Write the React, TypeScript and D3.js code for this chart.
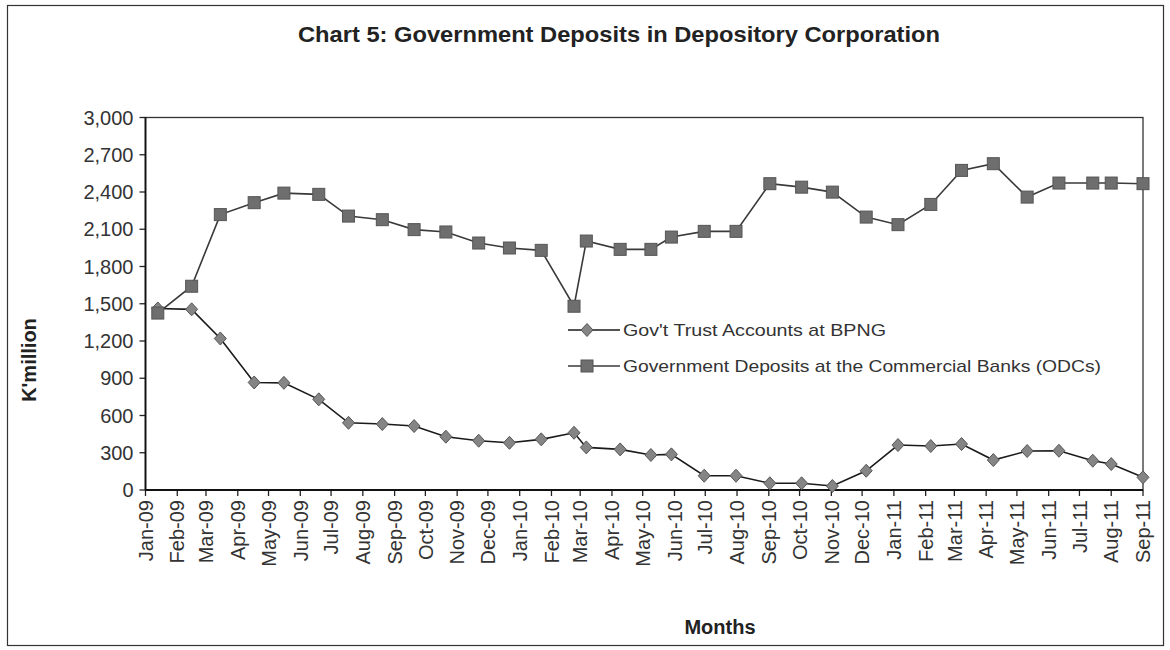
import React from "react";
import * as d3 from "d3";

const title = "Chart 5: Government Deposits in Depository Corporation";
const yAxisTitle = "K'million";
const xAxisTitle = "Months";
const seriesNames = [
  "Gov't Trust Accounts at BPNG",
  "Government Deposits at the Commercial Banks (ODCs)",
];

const dates = [
  "2009-01-13", "2009-02-15", "2009-03-15", "2009-04-17", "2009-05-16",
  "2009-06-19", "2009-07-18", "2009-08-20", "2009-09-20", "2009-10-21",
  "2009-11-22", "2009-12-22", "2010-01-22", "2010-02-23", "2010-03-07",
  "2010-04-09", "2010-05-09", "2010-05-29", "2010-06-30", "2010-07-31",
  "2010-09-02", "2010-10-03", "2010-11-02", "2010-12-05", "2011-01-05",
  "2011-02-06", "2011-03-08", "2011-04-08", "2011-05-11", "2011-06-11",
  "2011-07-14", "2011-08-01", "2011-09-01",
];

const bpng = [
  1462, 1455, 1220, 866, 863, 730, 541, 531, 515, 429,
  397, 380, 408, 461, 343, 327, 282, 287, 115, 115,
  54, 54, 32, 155, 362, 354, 370, 241, 314, 316,
  236, 209, 102,
];

const odc = [
  1425, 1641, 2218, 2314, 2391, 2381, 2206, 2177, 2097, 2078,
  1989, 1949, 1930, 1480, 2005, 1938, 1938, 2037, 2083, 2083,
  2467, 2439, 2399, 2198, 2137, 2300, 2574, 2628, 2359, 2472,
  2472, 2472, 2467,
];

const yTicks = [0, 300, 600, 900, 1200, 1500, 1800, 2100, 2400, 2700, 3000];
const xStart = "2009-01-01";
const xEnd = "2011-09-01";

const W = 1170;
const H = 650;
const M = { left: 145.5, right: 1143, top: 117.5, bottom: 490 };
const FONT = "'Liberation Sans', Arial, sans-serif";

export default function App() {
  const parse = d3.utcParse("%Y-%m-%d");
  const d0 = parse(xStart) as Date;
  const d1 = parse(xEnd) as Date;
  const x = d3.scaleUtc().domain([d0, d1]).range([M.left, M.right]);
  const y = d3.scaleLinear().domain([0, 3000]).range([M.bottom, M.top]);
  const months = d3.utcMonth.range(d0, d3.utcDay.offset(d1, 1));
  const fmt = d3.utcFormat("%b-%y");
  const yFmt = d3.format(",");

  const pts1 = dates.map((d, i) => [x(parse(d) as Date), y(bpng[i])] as [number, number]);
  const pts2 = dates.map((d, i) => [x(parse(d) as Date), y(odc[i])] as [number, number]);
  const line = d3.line<[number, number]>();

  const diamond = (cx: number, cy: number, r = 6.5) =>
    `M${cx},${cy - r}L${cx + r - 0.5},${cy}L${cx},${cy + r}L${cx - r + 0.5},${cy}Z`;
  const sq = 12;

  const legX = 568;
  const legRows = [330, 366];

  return (
    <svg
      width={W}
      height={H}
      style={{ position: "absolute", left: 0, top: 0, background: "#fff" }}
    >
      <rect x={0} y={0} width={W} height={H} fill="#fdfdfd" />
      <rect x={7.5} y={5.5} width={1156} height={640} fill="#fff" stroke="#333" strokeWidth={1.2} />
      <text
        x={619}
        y={42}
        textAnchor="middle"
        fontFamily="'Liberation Sans Narrow', 'Liberation Sans', Arial, sans-serif"
        fontWeight="bold"
        fontSize={22}
        fill="#222"
        textLength={642}
        lengthAdjust="spacingAndGlyphs"
      >
        {title}
      </text>

      {/* plot area frame */}
      <rect
        x={M.left}
        y={M.top}
        width={M.right - M.left}
        height={M.bottom - M.top}
        fill="#fff"
        stroke="#333"
        strokeWidth={1.3}
      />

      {/* y axis */}
      {yTicks.map((t) => (
        <g key={t}>
          <line x1={M.left - 6} x2={M.left} y1={y(t)} y2={y(t)} stroke="#222" strokeWidth={1.3} />
          <text
            x={M.left - 12}
            y={y(t)}
            dy="0.36em"
            textAnchor="end"
            fontFamily={FONT}
            fontSize={20}
            fill="#333"
          >
            {yFmt(t)}
          </text>
        </g>
      ))}
      <line x1={M.left} x2={M.left} y1={M.top} y2={M.bottom} stroke="#111" strokeWidth={1.8} />

      {/* x axis */}
      {months.map((m) => {
        const xm = x(m);
        return (
          <g key={+m}>
            <line x1={xm} x2={xm} y1={M.bottom} y2={M.bottom + 6} stroke="#222" strokeWidth={1.3} />
            <text
              transform={`translate(${xm},${M.bottom + 10}) rotate(-90)`}
              dy="0.36em"
              textAnchor="end"
              fontFamily={FONT}
              fontSize={20}
              fill="#333"
            >
              {fmt(m)}
            </text>
          </g>
        );
      })}
      <line x1={M.left} x2={M.right} y1={M.bottom} y2={M.bottom} stroke="#111" strokeWidth={1.8} />

      {/* series 1: BPNG (diamonds) */}
      <path d={line(pts1) || ""} fill="none" stroke="#1a1a1a" strokeWidth={1.6} />
      {pts1.map(([px, py], i) => (
        <path key={"d" + i} d={diamond(px, py)} fill="#858585" stroke="#555" strokeWidth={1} />
      ))}

      {/* series 2: ODCs (squares) */}
      <path d={line(pts2) || ""} fill="none" stroke="#3a3a3a" strokeWidth={1.6} />
      {pts2.map(([px, py], i) => (
        <rect
          key={"s" + i}
          x={px - sq / 2}
          y={py - sq / 2}
          width={sq}
          height={sq}
          fill="#6e6e6e"
          stroke="#555"
          strokeWidth={1}
        />
      ))}

      {/* legend */}
      <line x1={legX} x2={legX + 52} y1={legRows[0]} y2={legRows[0]} stroke="#1a1a1a" strokeWidth={1.6} />
      <path d={diamond(legX + 19, legRows[0])} fill="#858585" stroke="#555" strokeWidth={1} />
      <text
        x={legX + 55}
        y={legRows[0]}
        dy="0.36em"
        fontFamily={FONT}
        fontSize={17}
        fill="#333"
        textLength={263}
        lengthAdjust="spacingAndGlyphs"
      >
        {seriesNames[0]}
      </text>
      <line x1={legX} x2={legX + 52} y1={legRows[1]} y2={legRows[1]} stroke="#3a3a3a" strokeWidth={1.6} />
      <rect
        x={legX + 19 - sq / 2}
        y={legRows[1] - sq / 2}
        width={sq}
        height={sq}
        fill="#6e6e6e"
        stroke="#555"
        strokeWidth={1}
      />
      <text
        x={legX + 55}
        y={legRows[1]}
        dy="0.36em"
        fontFamily={FONT}
        fontSize={17}
        fill="#333"
        textLength={478}
        lengthAdjust="spacingAndGlyphs"
      >
        {seriesNames[1]}
      </text>

      {/* axis titles */}
      <text
        transform="translate(36,360) rotate(-90)"
        textAnchor="middle"
        fontFamily={FONT}
        fontWeight="bold"
        fontSize={20}
        fill="#222"
      >
        {yAxisTitle}
      </text>
      <text
        x={720}
        y={634}
        textAnchor="middle"
        fontFamily={FONT}
        fontWeight="bold"
        fontSize={20}
        fill="#222"
      >
        {xAxisTitle}
      </text>
    </svg>
  );
}
